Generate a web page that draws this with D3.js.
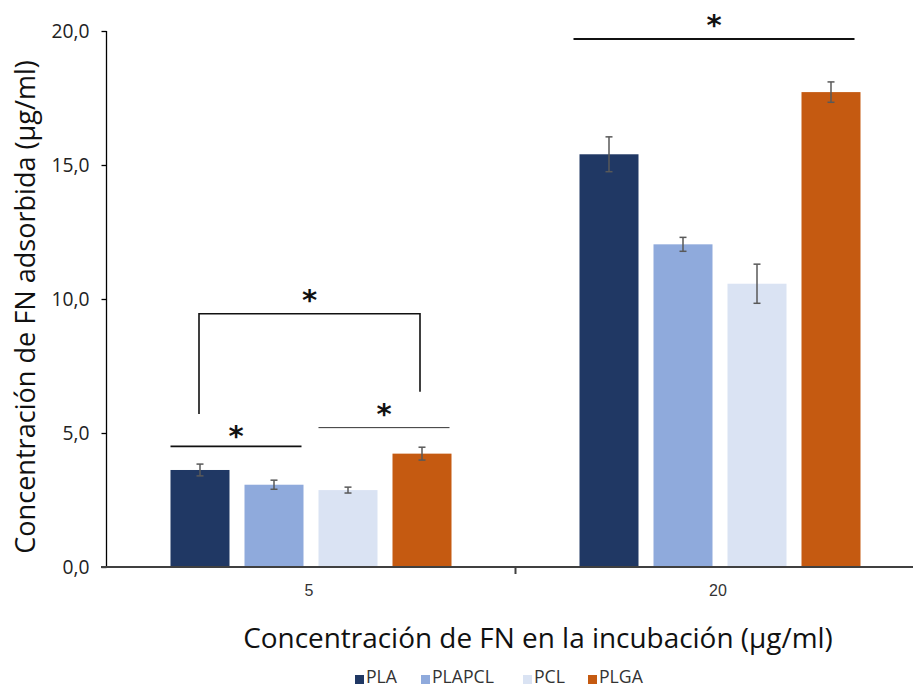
<!DOCTYPE html>
<html><head><meta charset="utf-8">
<script src="https://cdn.jsdelivr.net/npm/d3@7"></script>
<style>body{margin:0;background:#fff}svg{display:block}</style>
</head><body>
<svg id="c" width="913" height="688"></svg>
<script>
const categories = ["5", "20"];
const seriesNames = ["PLA", "PLAPCL", "PCL", "PLGA"];
const seriesColors = ["#203864", "#8faadc", "#dae3f3", "#c55a11"];
const valuesPLA = [3.62, 15.40];
const valuesPLAPCL = [3.07, 12.04];
const valuesPCL = [2.87, 10.57];
const valuesPLGA = [4.23, 17.72];
const errPLA = [0.22, 0.65];
const errPLAPCL = [0.17, 0.26];
const errPCL = [0.11, 0.73];
const errPLGA = [0.24, 0.38];
const yTicks = [0, 5, 10, 15, 20];
const yTitle = "Concentración de FN adsorbida (µg/ml)";
const xTitle = "Concentración de FN en la incubación (µg/ml)";
// significance: [category, fromSeries, toSeries, yLevel]
const sigLines = [["5", "PLA", "PLAPCL", 4.5], ["5", "PCL", "PLGA", 5.2], ["20", "PLA", "PLGA", 19.7]];
// bracket: [category, fromSeries, toSeries, top, leftBottom, rightBottom]
const sigBrackets = [["5", "PLA", "PLGA", 9.45, 5.71, 6.54]];

const values = [valuesPLA, valuesPLAPCL, valuesPCL, valuesPLGA];
const errs = [errPLA, errPLAPCL, errPCL, errPLGA];

const svg = d3.select("#c");
const fontMain = "'Open Sans','DejaVu Sans',sans-serif";

function fitSize(sel, target, base) {
  sel.attr("font-size", base);
  const w = sel.node().getComputedTextLength();
  const s = base * target / w;
  sel.attr("font-size", s);
  return s;
}

const y = d3.scaleLinear().domain([0, 20]).range([567, 31]);
const x0 = d3.scaleBand().domain(categories).range([106.5, 924.5]).padding(0);
const x1 = d3.scaleBand().domain(seriesNames).range([64, 345]).paddingInner(0.2027).paddingOuter(0);

const loc = d3.formatLocale({decimal: ",", thousands: ".", grouping: [3], currency: ["", "€"]});
const fmt = loc.format(".1f");

// bars
const data = [];
categories.forEach((c, ci) => seriesNames.forEach((s, si) => data.push({c, s, si, v: values[si][ci], e: errs[si][ci]})));

svg.append("g").selectAll("rect").data(data).join("rect")
  .attr("x", d => x0(d.c) + x1(d.s))
  .attr("y", d => y(d.v))
  .attr("width", x1.bandwidth())
  .attr("height", d => y(0) - y(d.v))
  .attr("fill", d => seriesColors[d.si]);

// error bars
const eg = svg.append("g").attr("stroke", "#595959").attr("stroke-width", 1.5);
data.forEach(d => {
  const cx = x0(d.c) + x1(d.s) + x1.bandwidth() / 2;
  eg.append("line").attr("x1", cx).attr("x2", cx).attr("y1", y(d.v + d.e)).attr("y2", y(d.v - d.e));
  eg.append("line").attr("x1", cx - 3.5).attr("x2", cx + 3.5).attr("y1", y(d.v + d.e)).attr("y2", y(d.v + d.e));
  eg.append("line").attr("x1", cx - 3.5).attr("x2", cx + 3.5).attr("y1", y(d.v - d.e)).attr("y2", y(d.v - d.e));
});

// y axis
const yAxis = d3.axisLeft(y).tickValues(yTicks).tickFormat(fmt).tickSize(5).tickPadding(12);
const ya = svg.append("g").attr("transform", "translate(106.5,0)").call(yAxis);
ya.select(".domain").attr("stroke", "#000").attr("stroke-width", 1.3).attr("d", "M0,31V567");
ya.selectAll(".tick line").attr("stroke", "#000").attr("stroke-width", 1.3);
const tickTexts = ya.selectAll(".tick text").attr("font-family", fontMain).attr("fill", "#222");
const topTick = ya.selectAll(".tick text").filter(d => d === 20);
const tsz = fitSize(topTick, 38, 16);
tickTexts.attr("font-size", tsz);

// x axis
const xa = svg.append("g").attr("transform", "translate(0,567)");
xa.append("line").attr("x1", 101).attr("x2", 913).attr("y1", 0).attr("y2", 0).attr("stroke", "#404040").attr("stroke-width", 2);
xa.append("line").attr("x1", x0("20")).attr("x2", x0("20")).attr("y1", 0).attr("y2", 7).attr("stroke", "#404040").attr("stroke-width", 2);
xa.selectAll("text.cat").data(categories).join("text").attr("class", "cat")
  .attr("x", d => x0(d) + x0.bandwidth() / 2 - 2).attr("y", 29)
  .attr("text-anchor", "middle").attr("font-family", "'Liberation Sans',Arial,sans-serif")
  .attr("font-size", 16).attr("fill", "#333").text(d => d);

// titles
const xt = svg.append("text").attr("x", 538).attr("y", 648).attr("text-anchor", "middle")
  .attr("font-family", fontMain).attr("fill", "#111").text(xTitle);
fitSize(xt, 590, 22);
const yt = svg.append("text").attr("transform", "translate(35,307) rotate(-90)").attr("text-anchor", "middle")
  .attr("font-family", fontMain).attr("fill", "#111").text(yTitle);
fitSize(yt, 494, 22);

// significance lines
const barLeft = (c, s) => x0(c) + x1(s);
const barRight = (c, s) => x0(c) + x1(s) + x1.bandwidth();
const barMid = (c, s) => x0(c) + x1(s) + x1.bandwidth() / 2;
const sg = svg.append("g");
const lw = [1.6, 1.0, 2.0];
const lc = ["#111", "#333", "#111"];
const starFont = "'DejaVu Sans',sans-serif";
sigLines.forEach((l, i) => {
  const xa_ = barLeft(l[0], l[1]) + (i === 2 ? -6 : 0);
  const xb_ = barRight(l[0], l[2]) + (i === 2 ? -6 : -2);
  const yy = y(l[3]);
  sg.append("line").attr("x1", xa_).attr("x2", xb_).attr("y1", yy).attr("y2", yy)
    .attr("stroke", lc[i]).attr("stroke-width", lw[i]);
  sg.append("text").attr("x", (xa_ + xb_) / 2).attr("y", yy - (i === 0 ? 0 : 4))
    .attr("text-anchor", "middle").attr("font-family", starFont)
    .attr("font-weight", "bold").attr("font-size", 29).attr("fill", "#111").text("*");
});
sigBrackets.forEach(b => {
  const xa_ = barMid(b[0], b[1]) - 1, xb_ = barMid(b[0], b[2]) - 2;
  sg.append("path").attr("d", `M${xa_},${y(b[4])}V${y(b[3])}H${xb_}V${y(b[5])}`)
    .attr("fill", "none").attr("stroke", "#111").attr("stroke-width", 1.6);
  sg.append("text").attr("x", (xa_ + xb_) / 2).attr("y", y(b[3]) - 4)
    .attr("text-anchor", "middle").attr("font-family", starFont)
    .attr("font-weight", "bold").attr("font-size", 29).attr("fill", "#111").text("*");
});

// legend
const legX = [355, 421, 523, 588];
const lg = svg.append("g");
const legTexts = [];
seriesNames.forEach((s, i) => {
  lg.append("rect").attr("x", legX[i]).attr("y", 675).attr("width", 9).attr("height", 9).attr("fill", seriesColors[i]);
  legTexts.push(lg.append("text").attr("x", legX[i] + 11).attr("y", 683).attr("font-family", fontMain)
    .attr("fill", "#333").text(s));
});
const lsz = fitSize(legTexts[1], 62, 15);
legTexts.forEach(t => t.attr("font-size", lsz));
</script>
</body></html>
